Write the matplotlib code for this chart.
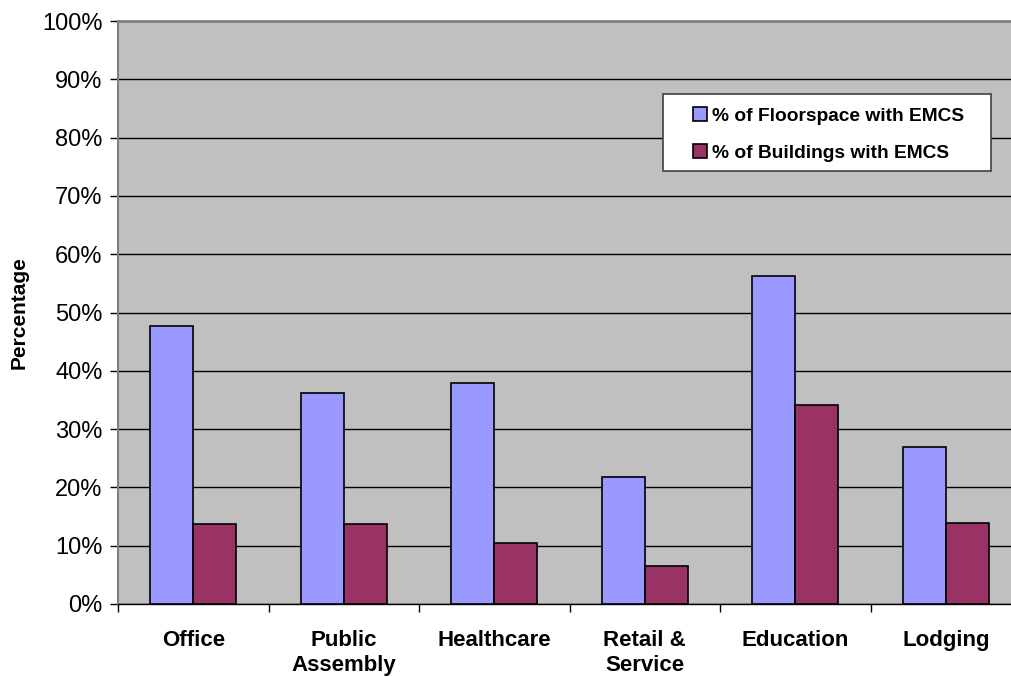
import matplotlib
matplotlib.use("Agg")
import matplotlib.pyplot as plt
import numpy as np
from matplotlib.ticker import FuncFormatter
from matplotlib.patches import Rectangle

plt.rcParams['font.family'] = ['Liberation Sans', 'DejaVu Sans']

# data
categories = ['Office', 'Public\nAssembly', 'Healthcare', 'Retail &\nService', 'Education', 'Lodging']
floorspace = [47.7, 36.2, 37.9, 21.7, 56.3, 27.0]
buildings = [13.8, 13.7, 10.4, 6.5, 34.2, 13.9]

fig = plt.figure(figsize=(10.12, 6.77), dpi=100)
ax = fig.add_axes([118 / 1012, 73 / 677, 903 / 1012, 583 / 677])
ax.set_facecolor('#C0C0C0')

x = np.arange(len(categories))
w = 0.286
ax.bar(x - w / 2, floorspace, w, color='#9999FF', edgecolor='black', linewidth=1.2,
       label='% of Floorspace with EMCS', zorder=3)
ax.bar(x + w / 2, buildings, w, color='#993366', edgecolor='black', linewidth=1.2,
       label='% of Buildings with EMCS', zorder=3)

ax.set_xlim(-0.5, len(categories) - 0.5)
ax.set_ylim(0, 100)
ax.set_yticks(np.arange(0, 101, 10))
ax.yaxis.set_major_formatter(FuncFormatter(lambda v, p: '%d%%' % v))
ax.grid(axis='y', color='black', linewidth=1.0, zorder=1)
ax.set_axisbelow(True)

# category labels at centers, boundary ticks as minor ticks
ax.set_xticks(x)
ax.set_xticklabels(categories, fontsize=16, fontweight='bold', linespacing=1.25)
ax.tick_params(axis='x', which='major', length=0, pad=19)
ax.set_xticks(np.arange(-0.5, len(categories), 1.0), minor=True)
ax.tick_params(axis='x', which='minor', length=6, width=1, color='black')
ax.tick_params(axis='y', labelsize=17, length=6, width=1, pad=5)

for s in ['top', 'right']:
    ax.spines[s].set_color('#808080')
    ax.spines[s].set_linewidth(2)
ax.spines['left'].set_color('#808080')
ax.spines['left'].set_linewidth(1.5)
ax.spines['bottom'].set_color('black')
ax.spines['bottom'].set_linewidth(1)

ax.set_ylabel('Percentage', fontsize=15, fontweight='bold', labelpad=10)

# legend box (wider padding than matplotlib's own frame gives)
box = Rectangle(((663 - 118) / 903, (604 - 171) / 583), (991 - 663) / 903, (171 - 94) / 583,
                transform=ax.transAxes, facecolor='white', edgecolor='#404040',
                linewidth=1.2, zorder=4, clip_on=False)
ax.add_patch(box)
leg = ax.legend(loc='upper left', bbox_to_anchor=((693 - 118) / 903, (604 - 107) / 583),
                prop={'weight': 'bold', 'size': 13.8}, frameon=False,
                handlelength=0.75, handleheight=0.75, handletextpad=0.25,
                borderpad=0, labelspacing=1.02, borderaxespad=0)
leg.set_zorder(5)

fig.savefig('out.png', dpi=100)
